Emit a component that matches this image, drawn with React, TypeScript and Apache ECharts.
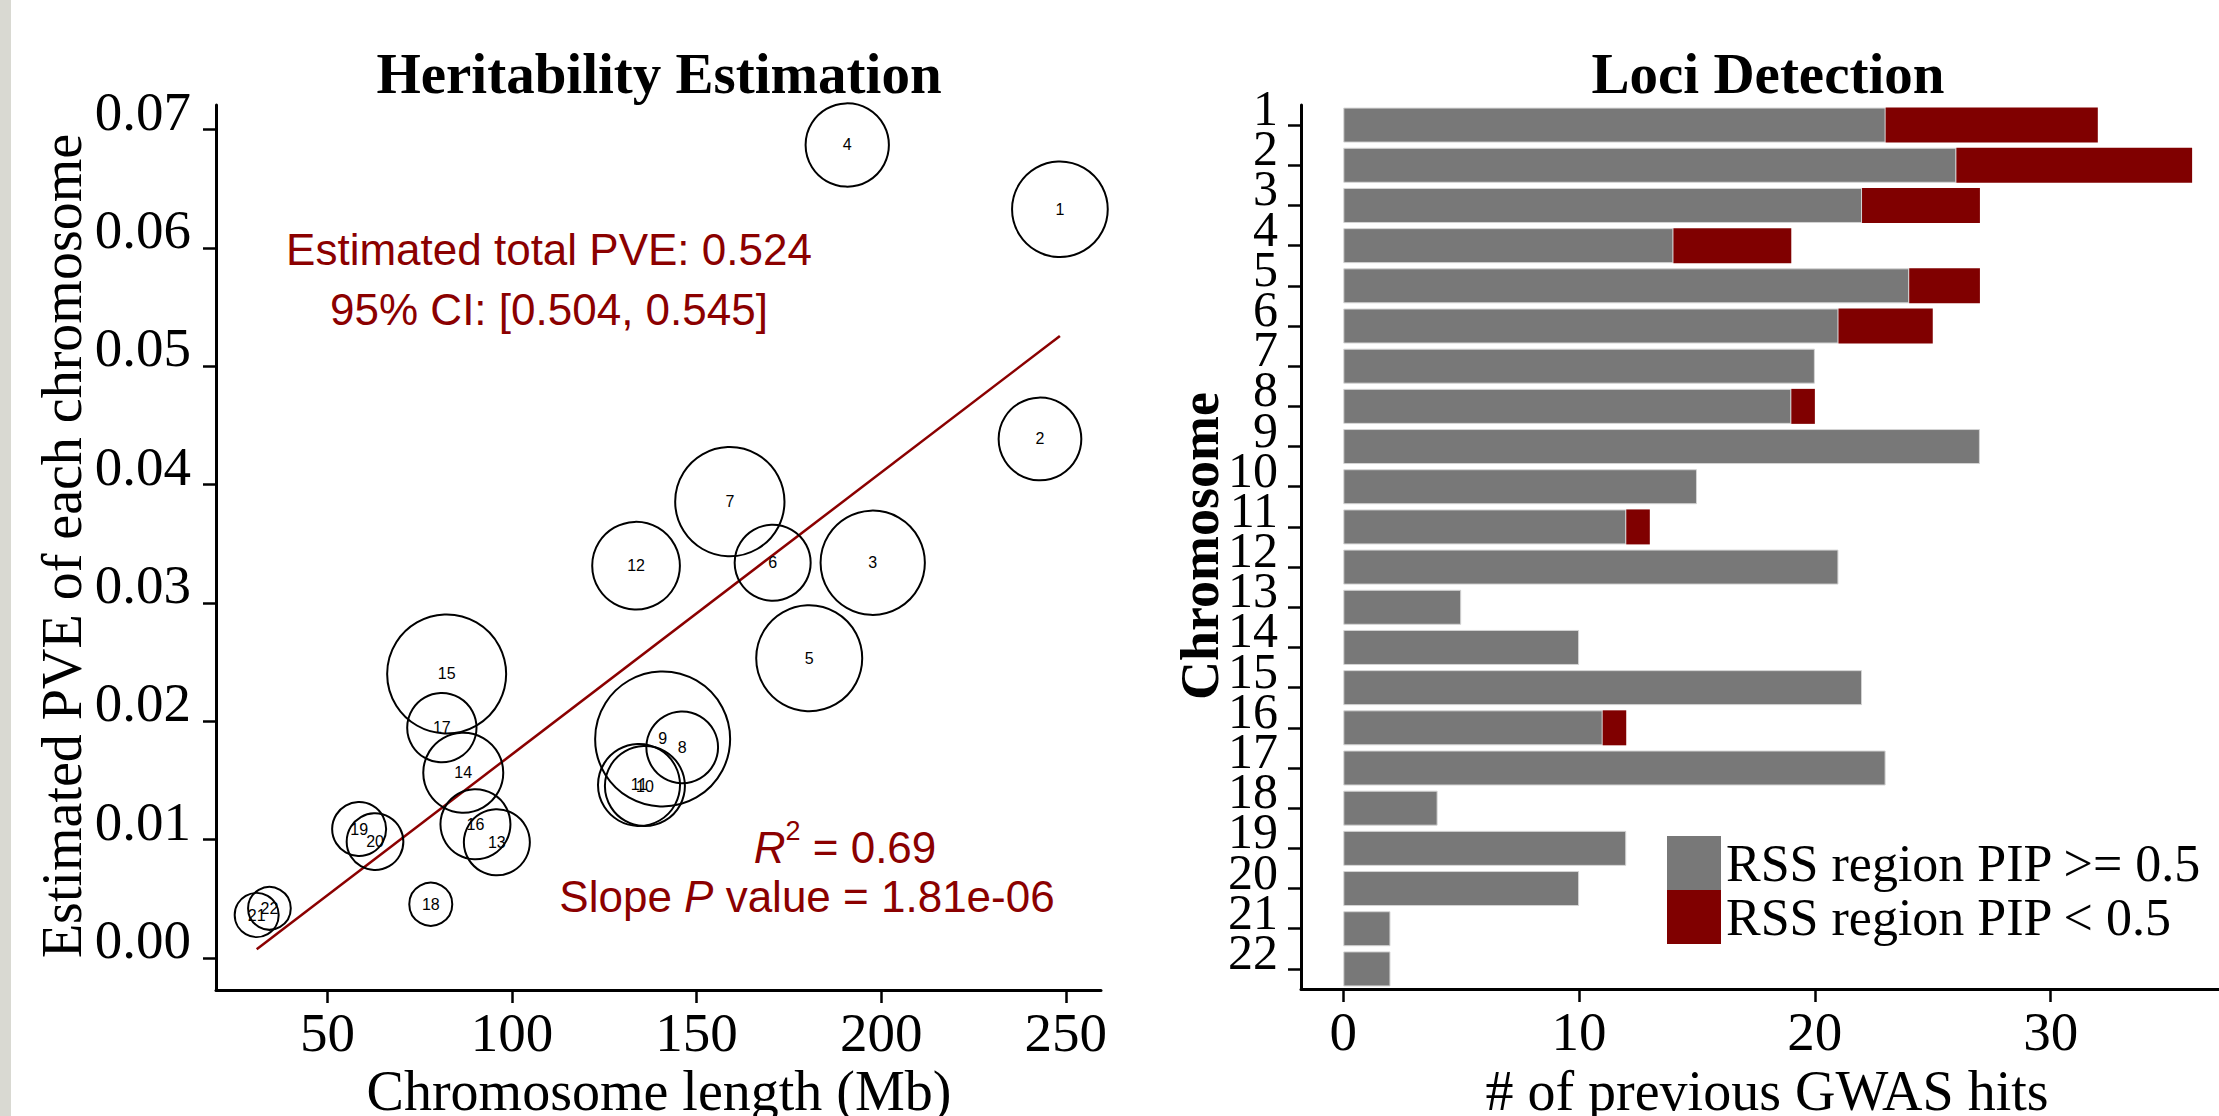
import React, { useEffect, useRef } from 'react';
import * as echarts from 'echarts';

// ---------- Data: Heritability Estimation ----------
const chromosomes = ['1','2','3','4','5','6','7','8','9','10','11','12','13','14','15','16','17','18','19','20','21','22'];
const chromLength = [248.4, 243.0, 197.7, 190.8, 180.5, 170.6, 159.0, 146.1, 140.8, 136.0, 134.4, 133.6, 95.9, 86.8, 82.3, 90.1, 81.0, 78.0, 58.6, 62.9, 30.85, 34.3];
const chromPVE = [0.06327, 0.04386, 0.0334, 0.0687, 0.02533, 0.0334, 0.03856, 0.0178, 0.01851, 0.01453, 0.01462, 0.03315, 0.00978, 0.01566, 0.024, 0.0113, 0.01946, 0.00454, 0.0109, 0.00983, 0.00363, 0.0042];
const bubbleSize = [95.7, 82.7, 104.3, 83.3, 106, 76, 109.3, 71.7, 135, 80, 82, 87.7, 66, 80, 119, 70, 69.3, 43, 54, 56.7, 44, 42.7];
const fitX = [30.85, 248.4];
const fitY = [0.00074, 0.05256];
const xTicksLeft = [50, 100, 150, 200, 250];
const yTicksLeft = [0, 0.01, 0.02, 0.03, 0.04, 0.05, 0.06, 0.07];

// ---------- Data: Loci Detection ----------
const gwasHigh = [23, 26, 22, 14, 24, 21, 20, 19, 27, 15, 12, 21, 5, 10, 22, 11, 23, 4, 12, 10, 2, 2];
const gwasLow = [9, 10, 5, 5, 3, 4, 0, 1, 0, 0, 1, 0, 0, 0, 0, 1, 0, 0, 0, 0, 0, 0];
const xTicksRight = [0, 10, 20, 30];
const seriesNames = ['RSS region PIP >= 0.5', 'RSS region PIP < 0.5'];

const serif = '"Liberation Serif", "Times New Roman", serif';
const sans = '"Liberation Sans", Arial, sans-serif';
const darkRed = '#8B0000';
const barRed = '#800000';
const barGray = '#787878';

const axisLineStyle = { show: true, onZero: false, lineStyle: { color: '#000', width: 3 } };
const tickStyle = { color: '#000', width: 2.5 };

export default function App() {
  const ref = useRef<HTMLDivElement>(null);
  useEffect(() => {
    if (!ref.current) return;
    const chart = echarts.init(ref.current, undefined, { renderer: 'svg' });
    const option: any = {
      animation: false,
      backgroundColor: '#ffffff',
      grid: [
        { left: 216, top: 105, width: 885, height: 885, outerBoundsMode: 'none' },
        { left: 1301, top: 105, width: 918, height: 884, outerBoundsMode: 'none' },
      ],
      xAxis: [
        {
          gridIndex: 0, type: 'value', min: 19.83, max: 259.53,
          axisLine: axisLineStyle,
          axisTick: { show: true, length: 13, lineStyle: tickStyle, customValues: xTicksLeft },
          axisLabel: { customValues: xTicksLeft, fontSize: 55, fontFamily: serif, color: '#000', margin: 15 },
          splitLine: { show: false },
        },
        {
          gridIndex: 1, type: 'value', min: -1.794, max: 37.14,
          axisLine: axisLineStyle,
          axisTick: { show: true, length: 13, lineStyle: tickStyle, customValues: xTicksRight },
          axisLabel: { customValues: xTicksRight, fontSize: 55, fontFamily: serif, color: '#000', margin: 15 },
          splitLine: { show: false },
        },
      ],
      yAxis: [
        {
          gridIndex: 0, type: 'value', min: -0.002704, max: 0.07208,
          axisLine: axisLineStyle,
          axisTick: { show: true, length: 13, lineStyle: tickStyle, customValues: yTicksLeft },
          axisLabel: {
            customValues: yTicksLeft,
            formatter: (v: number) => v.toFixed(2),
            fontSize: 55, fontFamily: serif, color: '#000', margin: 25,
            verticalAlign: 'bottom', lineHeight: 37,
          },
          splitLine: { show: false },
        },
        {
          gridIndex: 1, type: 'category', data: chromosomes, inverse: true,
          axisLine: axisLineStyle,
          axisTick: { show: true, length: 13, lineStyle: tickStyle, alignWithLabel: true, interval: 0 },
          axisLabel: {
            interval: 0, fontSize: 50, fontFamily: serif, color: '#000', margin: 23,
            verticalAlign: 'bottom', lineHeight: 34,
          },
          splitLine: { show: false },
        },
      ],
      legend: {
        data: seriesNames,
        orient: 'vertical',
        left: 1667, top: 836,
        itemWidth: 54, itemHeight: 54, itemGap: 0, padding: 0,
        icon: 'rect',
        itemStyle: { borderWidth: 0 },
        textStyle: { fontSize: 52, fontFamily: serif, color: '#000', lineHeight: 54 },
        selectedMode: false,
      },
      series: [
        {
          type: 'line',
          xAxisIndex: 0, yAxisIndex: 0,
          data: fitX.map((x, i) => [x, fitY[i]]),
          symbol: 'none',
          lineStyle: { color: darkRed, width: 2.5 },
          z: 2,
          silent: true,
        },
        {
          type: 'scatter',
          xAxisIndex: 0, yAxisIndex: 0,
          data: chromosomes.map((c, i) => ({ name: c, value: [chromLength[i], chromPVE[i], bubbleSize[i]] })),
          symbolSize: (v: number[]) => v[2],
          itemStyle: { color: 'rgba(0,0,0,0)', borderColor: '#000', borderWidth: 2, opacity: 1 },
          label: { show: true, position: 'inside', formatter: '{b}', fontSize: 16, fontFamily: sans, color: '#000' },
          emphasis: { disabled: true },
          clip: false,
          z: 3,
        },
        {
          name: seriesNames[0],
          type: 'bar', stack: 'gwas',
          xAxisIndex: 1, yAxisIndex: 1,
          data: gwasHigh,
          barWidth: 35,
          itemStyle: { color: barGray, borderColor: '#d4d4d4', borderWidth: 1 },
          emphasis: { disabled: true },
        },
        {
          name: seriesNames[1],
          type: 'bar', stack: 'gwas',
          xAxisIndex: 1, yAxisIndex: 1,
          data: gwasLow,
          barWidth: 35,
          itemStyle: { color: barRed, borderWidth: 0 },
          emphasis: { disabled: true },
        },
      ],
      graphic: [
        { type: 'rect', shape: { x: 0, y: 0, width: 11, height: 1116 }, style: { fill: '#d9d9d2' }, silent: true },
        { type: 'text', x: 659, y: 73.5, style: { text: 'Heritability Estimation', font: `bold 57px ${serif}`, fill: '#000', align: 'center', verticalAlign: 'middle' } },
        { type: 'text', x: 1768, y: 73.5, style: { text: 'Loci Detection', font: `bold 57px ${serif}`, fill: '#000', align: 'center', verticalAlign: 'middle' } },
        { type: 'text', x: 659, y: 1091, style: { text: 'Chromosome length (Mb)', font: `56px ${serif}`, fill: '#000', align: 'center', verticalAlign: 'middle' } },
        { type: 'text', x: 1767, y: 1091, style: { text: '# of previous GWAS hits', font: `56px ${serif}`, fill: '#000', align: 'center', verticalAlign: 'middle' } },
        { type: 'text', x: 62, y: 546, rotation: Math.PI / 2, style: { text: 'Estimated PVE of each chromosome', font: `56px ${serif}`, fill: '#000', align: 'center', verticalAlign: 'middle' } },
        { type: 'text', x: 1200, y: 546, rotation: Math.PI / 2, style: { text: 'Chromosome', font: `bold 54px ${serif}`, fill: '#000', align: 'center', verticalAlign: 'middle' } },
        { type: 'text', x: 549, y: 249, style: { text: 'Estimated total PVE: 0.524', font: `44px ${sans}`, fill: darkRed, align: 'center', verticalAlign: 'middle' } },
        { type: 'text', x: 549, y: 309, style: { text: '95% CI: [0.504, 0.545]', font: `44px ${sans}`, fill: darkRed, align: 'center', verticalAlign: 'middle' } },
        {
          type: 'text', x: 845, y: 847,
          style: {
            text: '{i|R}{s|2}{n| = 0.69}', align: 'center', verticalAlign: 'middle',
            rich: {
              i: { fontSize: 44, fontFamily: sans, fontStyle: 'italic', fill: darkRed, lineHeight: 60 },
              s: { fontSize: 27, fontFamily: sans, fill: darkRed, lineHeight: 28, verticalAlign: 'top' },
              n: { fontSize: 44, fontFamily: sans, fill: darkRed, lineHeight: 60 },
            },
          },
        },
        {
          type: 'text', x: 807, y: 896,
          style: {
            text: '{n|Slope }{i|P}{n| value = 1.81e-06}', align: 'center', verticalAlign: 'middle',
            rich: {
              i: { fontSize: 44, fontFamily: sans, fontStyle: 'italic', fill: darkRed },
              n: { fontSize: 44, fontFamily: sans, fill: darkRed },
            },
          },
        },
      ],
    };
    chart.setOption(option);
    return () => chart.dispose();
  }, []);
  return <div ref={ref} style={{ position: 'absolute', left: 0, top: 0, width: 2219, height: 1116 }} />;
}
